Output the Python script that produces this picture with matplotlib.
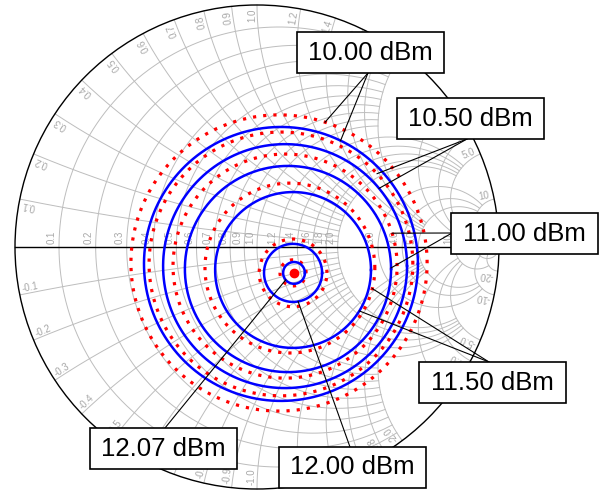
import numpy as np
import matplotlib.pyplot as plt
from matplotlib.patches import Circle, Rectangle

plt.rcParams['font.family'] = ['Liberation Sans', 'DejaVu Sans']

# load-pull contours on the reflection coefficient plane: centre (re, im), radius
power_labels = ['10.00 dBm', '10.50 dBm', '11.00 dBm', '11.50 dBm', '12.00 dBm', '12.07 dBm']
meas_re = [0.099, 0.116, 0.128, 0.149, 0.149, 0.153]
meas_im = [-0.070, -0.079, -0.091, -0.095, -0.107, -0.107]
meas_rad = [0.566, 0.504, 0.426, 0.322, 0.120, 0.045]
sim_re = [0.091, 0.099, 0.116, 0.136, 0.149, 0.149]
sim_im = [-0.066, -0.070, -0.079, -0.087, -0.107, -0.107]
sim_rad = [0.612, 0.545, 0.463, 0.351, 0.140, 0.054]
opt_re, opt_im = 0.153, -0.107

# smith grid values
grid_vals = [0.1, 0.2, 0.3, 0.4, 0.5, 0.6, 0.7, 0.8, 0.9, 1.0,
             1.2, 1.4, 1.6, 1.8, 2.0, 3.0, 4.0, 5.0, 10, 20]
grid_labels = ['0.1', '0.2', '0.3', '0.4', '0.5', '0.6', '0.7', '0.8', '0.9', '1.0',
               '1.2', '1.4', '1.6', '1.8', '2.0', '3.0', '4.0', '5.0', '10', '20']

GRID = '#bdbdbd'
LBL = '#a8a8a8'

# pixel layout helpers (chart centre at 257,247, radius 242 px)
CX, CY, R = 257.0, 247.0, 242.0
def px(x, y):
    return (x - CX) / R, (CY - y) / R

fig = plt.figure(figsize=(6.08, 4.94), dpi=100)
ax = fig.add_axes([0, 0, 1, 1])
ax.set_xlim(-CX / R, (608 - CX) / R)
ax.set_ylim(-(494 - CY) / R, CY / R)
ax.set_aspect('equal')
ax.axis('off')


def z2g(z):
    return (z - 1) / (z + 1)


def limit(v):
    # how far each family of lines runs
    if v <= 1.0:
        return 2.0
    if v <= 2.0:
        return 5.0
    if v <= 5.0:
        return 10.0
    if v <= 10:
        return 20.0
    return None


# resistance circles
for r in grid_vals:
    lim = limit(r)
    if lim is None:
        t = np.linspace(0, 2 * np.pi, 400)
        c, rad = r / (1 + r), 1 / (1 + r)
        gx, gy = c + rad * np.cos(t), rad * np.sin(t)
    else:
        xs = np.concatenate([-np.geomspace(lim, 1e-3, 300), np.geomspace(1e-3, lim, 300)])
        g = z2g(r + 1j * xs)
        gx, gy = g.real, g.imag
    ax.plot(gx, gy, color=GRID, lw=0.7, zorder=1)

# reactance arcs
for x in grid_vals:
    lim = limit(x)
    rmax = 1e4 if lim is None else lim
    rs = np.concatenate([np.linspace(0, 0.1, 30), np.geomspace(0.1, rmax, 400)])
    for s in (1, -1):
        g = z2g(rs + 1j * s * x)
        ax.plot(g.real, g.imag, color=GRID, lw=0.7, zorder=1)

# outer circle and real axis
ax.add_patch(Circle((0, 0), 1, fill=False, ec='black', lw=1.0, zorder=2))
ax.plot([-1, 1], [0, 0], color='black', lw=1.0, zorder=2)

# resistance labels on the real axis
for r, s in zip(grid_vals, grid_labels):
    gr = z2g(r)
    ax.text(gr - 0.008, 0.012, s, rotation=90, rotation_mode='anchor',
            ha='left', va='bottom', fontsize=7, color=LBL, zorder=2)

# reactance labels along the rim
for x, s in zip(grid_vals, grid_labels):
    for sign in (1, -1):
        g = z2g(1j * sign * x)
        th = np.angle(g)
        pos = 0.985 * g
        if sign > 0:
            ax.text(pos.real, pos.imag, s, rotation=np.degrees(th), rotation_mode='anchor',
                    ha='right', va='bottom', fontsize=7, color=LBL, zorder=2)
        else:
            ax.text(pos.real, pos.imag, '-' + s, rotation=np.degrees(th) - 180,
                    rotation_mode='anchor', ha='left', va='bottom', fontsize=7,
                    color=LBL, zorder=2)

# contours
t = np.linspace(0, 2 * np.pi, 500)
for cx, cy, rr in zip(sim_re, sim_im, sim_rad):
    ax.plot(cx + rr * np.cos(t), cy + rr * np.sin(t), color='red', lw=2.3,
            ls=(0, (1, 2.2)), zorder=3)
for cx, cy, rr in zip(meas_re, meas_im, meas_rad):
    ax.plot(cx + rr * np.cos(t), cy + rr * np.sin(t), color='blue', lw=1.8, zorder=3)
ax.plot(opt_re, opt_im, 'o', color='red', ms=6, zorder=4)

# label boxes with leader lines
box_centre = [(370, 52.5), (470.5, 118.5), (524.5, 233.5), (492, 382.5), (352, 467), (163.5, 448.5)]
box_anchor = [(368, 73), (467, 139), (452, 233), (489, 362), (350, 447), (165, 428)]
leader_to = [[('s', 71.9), ('m', 64.2)],
             [('s', 43.2), ('m', 39.6)],
             [('s', 17.1), ('m', 0.6)],
             [('s', -14.0), ('m', -31.7)],
             [('m', -80.0)],
             [('m', 220.0)]]
bw, bh = 147 / R, 41 / R
for i, lab in enumerate(power_labels):
    ax0, ay0 = px(*box_anchor[i])
    for kind, ang in leader_to[i]:
        if kind == 's':
            cx, cy, rr = sim_re[i], sim_im[i], sim_rad[i]
        else:
            cx, cy, rr = meas_re[i], meas_im[i], meas_rad[i]
        a = np.radians(ang)
        ax.plot([ax0, cx + rr * np.cos(a)], [ay0, cy + rr * np.sin(a)],
                color='black', lw=0.8, zorder=4)
    bx, by = px(*box_centre[i])
    ax.add_patch(Rectangle((bx - bw / 2, by - bh / 2), bw, bh, fc='white', ec='black',
                           lw=1.2, zorder=5))
    ax.text(bx, by, lab, ha='center', va='center', fontsize=18.5, zorder=6)

fig.savefig('out.png', dpi=100)
